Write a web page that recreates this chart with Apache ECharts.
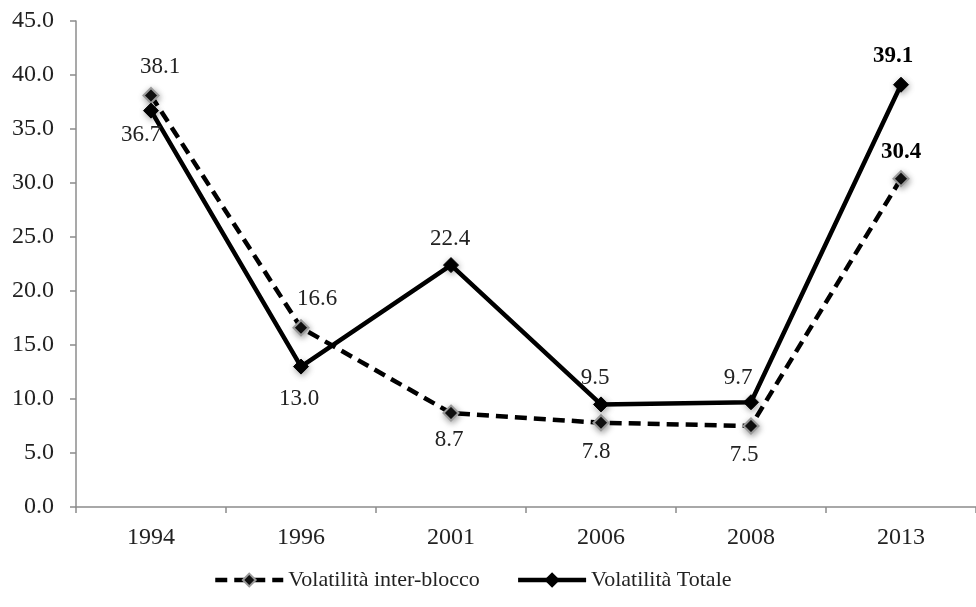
<!DOCTYPE html>
<html>
<head>
<meta charset="utf-8">
<script src="https://cdn.jsdelivr.net/npm/echarts@6/dist/echarts.min.js"></script>
<style>
  html, body { margin: 0; padding: 0; background: #fff; }
  #chart { width: 976px; height: 607px; }
</style>
</head>
<body>
<div id="chart"></div>
<script>
// Election years on the category axis
var years = ['1994', '1996', '2001', '2006', '2008', '2013'];
// Inter-bloc volatility (dashed line)
var interBlocco = [38.1, 16.6, 8.7, 7.8, 7.5, 30.4];
// Total volatility (solid line)
var totale = [36.7, 13.0, 22.4, 9.5, 9.7, 39.1];
// Value axis ticks
var yTicks = [0, 5, 10, 15, 20, 25, 30, 35, 40, 45];

var FONT = "'Liberation Serif', 'DejaVu Serif', serif";

// Per-point label placement: [position, offsetX, offsetY, bold]
var interLabelPlacement = [
  ['top', 9, -4, false],
  ['top', 16, -4, false],
  ['bottom', -2, 2, false],
  ['bottom', -5, 4, false],
  ['bottom', -7, 4, false],
  ['top', 0, -2, true]
];
var totaleLabelPlacement = [
  ['bottom', -10, 0, false],
  ['bottom', -2, 8, false],
  ['top', -1, -2, false],
  ['top', -6, -2, false],
  ['top', -13, 0, false],
  ['top', -8, -4, true]
];

function buildPoints(values, placement) {
  return values.map(function (v, i) {
    var p = placement[i];
    return {
      value: v,
      label: {
        position: p[0],
        offset: [p[1], p[2]],
        fontWeight: p[3] ? 'bold' : 'normal',
        color: p[3] ? '#000' : '#222'
      }
    };
  });
}

var chart = echarts.init(document.getElementById('chart'));
chart.setOption({
  backgroundColor: '#fff',
  animation: false,
  textStyle: { fontFamily: FONT },
  grid: { left: 76, top: 21, width: 904, height: 486, containLabel: false },
  legend: {
    bottom: 11,
    left: 208,
    itemWidth: 68,
    itemHeight: 16,
    itemGap: 36,
    lineStyle: { width: 4.5 },
    textStyle: { fontFamily: FONT, fontSize: 22, color: '#222' },
    data: ['Volatilità inter-blocco', 'Volatilità Totale']
  },
  xAxis: {
    type: 'category',
    data: years,
    boundaryGap: true,
    axisLine: { lineStyle: { color: '#8c8c8c', width: 1.5 } },
    axisTick: { show: true, length: 6, lineStyle: { color: '#8c8c8c', width: 1.5 } },
    axisLabel: { fontFamily: FONT, fontSize: 24, color: '#222', margin: 19 },
    splitLine: { show: false }
  },
  yAxis: {
    type: 'value',
    min: yTicks[0],
    max: yTicks[yTicks.length - 1],
    interval: 5,
    axisLine: { show: true, lineStyle: { color: '#8c8c8c', width: 1.5 } },
    axisTick: { show: true, length: 6, lineStyle: { color: '#8c8c8c', width: 1.5 } },
    axisLabel: {
      fontFamily: FONT, fontSize: 24, color: '#222', margin: 22,
      formatter: function (v) { return v.toFixed(1); }
    },
    splitLine: { show: false }
  },
  series: [
    {
      name: 'Volatilità inter-blocco',
      type: 'line',
      data: buildPoints(interBlocco, interLabelPlacement),
      symbol: 'diamond',
      symbolSize: 15,
      z: 2,
      lineStyle: { color: '#000', width: 4.5, type: [12, 7] },
      itemStyle: {
        color: '#111',
        borderColor: '#9a9a9a',
        borderWidth: 2,
        shadowBlur: 6,
        shadowColor: 'rgba(0,0,0,0.35)',
        shadowOffsetX: 1,
        shadowOffsetY: 2
      },
      label: {
        show: true,
        fontFamily: FONT,
        fontSize: 23,
        formatter: function (p) { return p.value.toFixed(1); }
      }
    },
    {
      name: 'Volatilità Totale',
      type: 'line',
      data: buildPoints(totale, totaleLabelPlacement),
      symbol: 'diamond',
      symbolSize: 15,
      z: 3,
      lineStyle: { color: '#000', width: 4.5, type: 'solid' },
      itemStyle: {
        color: '#000',
        borderColor: '#000',
        borderWidth: 1,
        shadowBlur: 6,
        shadowColor: 'rgba(0,0,0,0.35)',
        shadowOffsetX: 1,
        shadowOffsetY: 2
      },
      label: {
        show: true,
        fontFamily: FONT,
        fontSize: 23,
        formatter: function (p) { return p.value.toFixed(1); }
      }
    }
  ]
});
</script>
</body>
</html>
